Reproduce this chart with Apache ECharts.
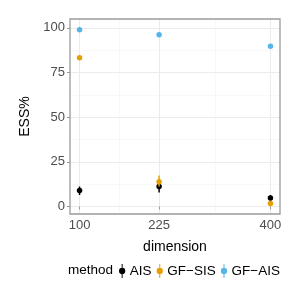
<!DOCTYPE html>
<html><head><meta charset="utf-8">
<script src="https://cdn.jsdelivr.net/npm/echarts@6/dist/echarts.min.js"></script>
<style>html,body{margin:0;padding:0;background:#fff}#c{width:300px;height:300px}</style>
</head><body><div id="c"></div>
<script>
const dimensions = [100, 225, 400];
const methods = ['AIS', 'GF\u2212SIS', 'GF\u2212AIS'];
const colors = ['#000000', '#E69F00', '#56B4E9'];
const aisMean = [9.0, 11.2, 4.7];
const aisLow = [6.4, 7.8, 3.4];
const aisHigh = [11.2, 13.1, 6.4];
const sisMean = [83.2, 13.8, 1.7];
const sisLow = [82.8, 11.2, 1.3];
const sisHigh = [83.6, 17.4, 2.1];
const gfaisMean = [98.9, 96.1, 89.7];
const gfaisLow = [98.7, 95.9, 89.5];
const gfaisHigh = [99.1, 96.3, 89.9];
const yTicks = [0, 25, 50, 75, 100];
const yMinor = [12.5, 37.5, 62.5, 87.5];
const xMinor = [162.5, 312.5];

const means = [aisMean, sisMean, gfaisMean];
const lows = [aisLow, sisLow, gfaisLow];
const highs = [aisHigh, sisHigh, gfaisHigh];

const font = 'Liberation Sans, Arial, sans-serif';
const gridCol = '#ebebeb';
const series = [];
const order = [1, 2, 0];
order.forEach(function (m) {
  series.push({
    type: 'custom', name: methods[m], xAxisIndex: 0, yAxisIndex: 0, z: 3 + m,
    data: dimensions.map(function (d, i) { return [d, lows[m][i], highs[m][i]]; }),
    renderItem: function (params, api) {
      const p1 = api.coord([api.value(0), api.value(1)]);
      const p2 = api.coord([api.value(0), api.value(2)]);
      return { type: 'line', shape: { x1: p1[0], y1: p1[1], x2: p2[0], y2: p2[1] },
        style: { stroke: colors[m], lineWidth: 1.5 } };
    },
    itemStyle: { color: colors[m] }, silent: true
  });
  series.push({
    type: 'scatter', name: methods[m], xAxisIndex: 0, yAxisIndex: 0, z: 3 + m,
    symbolSize: 5.5, itemStyle: { color: colors[m], opacity: 1 },
    data: dimensions.map(function (d, i) { return [d, means[m][i]]; }), silent: true
  });
});

const iconPath = 'path://M4.3,0 L5.7,0 L5.7,20 L4.3,20 Z M5,5.5 A4.5,4.5 0 1,1 5,14.5 A4.5,4.5 0 1,1 5,5.5 Z';

const option = {
  animation: false,
  backgroundColor: '#fff',
  grid: [{ left: 70, right: 20, top: 19, bottom: 86, show: false }],
  xAxis: [
    { type: 'value', min: 85, max: 415, gridIndex: 0,
      name: 'dimension', nameLocation: 'middle', nameGap: 26,
      nameTextStyle: { fontFamily: font, fontSize: 14, color: '#000' },
      axisLine: { show: false },
      axisTick: { show: true, length: 3, lineStyle: { color: '#999', width: 1 }, customValues: dimensions },
      axisLabel: { customValues: dimensions, fontFamily: font, fontSize: 13, color: '#4d4d4d', margin: 5 },
      splitLine: { show: true, lineStyle: { color: gridCol, width: 1 } } },
    { type: 'value', min: 85, max: 415, gridIndex: 0, position: 'bottom',
      axisLine: { show: false }, axisLabel: { show: false },
      axisTick: { show: false, customValues: xMinor },
      splitLine: { show: true, lineStyle: { color: '#f3f3f3', width: 0.6 } } }
  ],
  yAxis: [
    { type: 'value', min: -4.2, max: 104.9, gridIndex: 0,
      name: 'ESS%', nameLocation: 'middle', nameGap: 37,
      nameTextStyle: { fontFamily: font, fontSize: 14, color: '#000' },
      axisLine: { show: false },
      axisTick: { show: true, length: 3, lineStyle: { color: '#999', width: 1 }, customValues: yTicks },
      axisLabel: { customValues: yTicks, fontFamily: font, fontSize: 13, color: '#4d4d4d', margin: 5 },
      splitLine: { show: true, lineStyle: { color: gridCol, width: 1 } } },
    { type: 'value', min: -4.2, max: 104.9, gridIndex: 0, position: 'left',
      axisLine: { show: false }, axisLabel: { show: false },
      axisTick: { show: false, customValues: yMinor },
      splitLine: { show: true, lineStyle: { color: '#f3f3f3', width: 0.6 } } }
  ],
  title: { text: 'method', left: 68, top: 263, padding: 0, textStyle: { fontFamily: font, fontSize: 13.5, fontWeight: 'normal', color: '#000' } },
  legend: {
    left: 119, top: 264, padding: 0, itemWidth: 7, itemHeight: 14, itemGap: 5.2,
    selectedMode: false,
    textStyle: { fontFamily: font, fontSize: 13.5, color: '#000', padding: [0, 0, 0, -1] },
    data: methods.map(function (n, i) { return { name: n, icon: iconPath, itemStyle: { color: colors[i] } }; })
  },
  graphic: [],
  series: series
};

const chart = echarts.init(document.getElementById('c'), null, { renderer: 'canvas' });
chart.setOption(option);
const r = chart.getModel().getComponent('grid', 0).coordinateSystem.getRect();
chart.setOption({ graphic: [{ type: 'rect', shape: { x: r.x, y: r.y, width: r.width, height: r.height },
  style: { fill: 'none', stroke: '#9a9a9a', lineWidth: 1.3 }, z: 10, silent: true }] });
</script></body></html>
